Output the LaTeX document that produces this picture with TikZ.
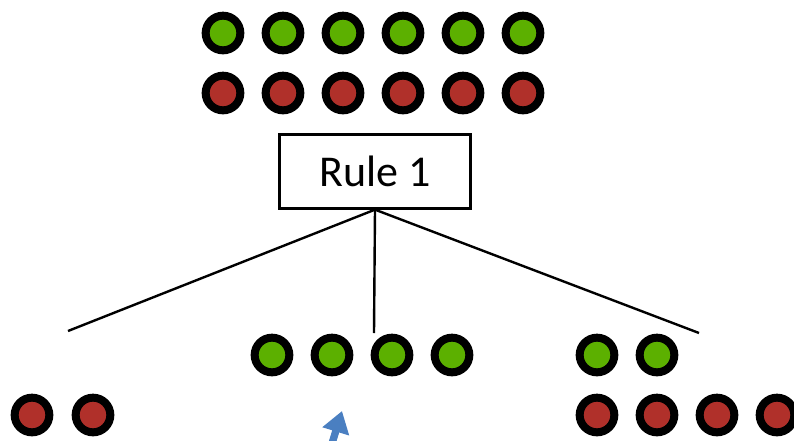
\documentclass[tikz,border=0pt]{standalone}
\usepackage{fontspec}
\setmainfont{Carlito}
\usetikzlibrary{arrows.meta}
\definecolor{dotgreen}{HTML}{5CB000}
\definecolor{dotred}{HTML}{B0302A}
\definecolor{pointerblue}{HTML}{4A7FC1}
\tikzset{
    gdot/.style={circle, draw=black, line width=6pt, fill=dotgreen, minimum size=26pt, inner sep=0pt},
    rdot/.style={circle, draw=black, line width=6pt, fill=dotred, minimum size=26pt, inner sep=0pt},
    rulebox/.style={draw, line width=2.2pt, minimum width=143pt, minimum height=55pt, font=\fontsize{33}{36}\selectfont},
    branch/.style={line width=1.8pt},
}

\begin{document}
\begin{tikzpicture}[x=0.75pt, y=-0.75pt]
\useasboundingbox (0,0) rectangle (794,440);
% the whole set
\foreach \i in {0,...,5} {
    \node[gdot] (top-g\i) at (223+60*\i,33) {};
    \node[rdot] (top-r\i) at (223+60*\i,93) {};
}
\node[rulebox] (rule) at (375,171.5) {Rule 1};

% branch ends
\coordinate (left-end) at (68,331);
\coordinate (mid-end) at (374,333);
\coordinate (right-end) at (699,333);
\draw[branch] (rule.south) -- (left-end);
\draw[branch] (rule.south) -- (mid-end);
\draw[branch] (rule.south) -- (right-end);

% left part
\foreach \i in {0,1} \node[rdot] (left-r\i) at (32+61*\i,415) {};
% middle part
\foreach \i in {0,...,3} \node[gdot] (mid-g\i) at (272+60*\i,355) {};
% right part
\foreach \i in {0,1} \node[gdot] (right-g\i) at (597+60*\i,355) {};
\foreach \i in {0,...,3} \node[rdot] (right-r\i) at (597+60*\i,415) {};

% pointer
\coordinate (tail) at (330,450);
\coordinate (tip) at (342,411);
\draw[pointerblue, line width=5.5pt, -{Triangle[length=16pt, width=20pt]}] (tail) -- (tip);
\end{tikzpicture}
\end{document}
